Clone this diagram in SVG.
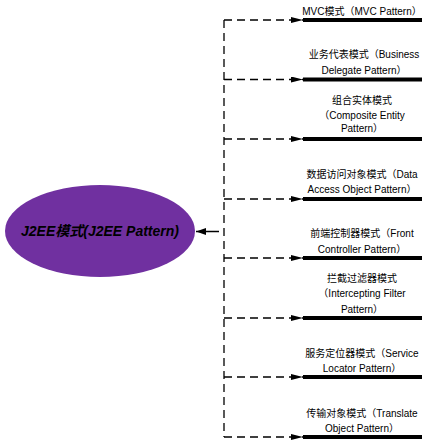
<svg xmlns="http://www.w3.org/2000/svg" width="436" height="446" viewBox="0 0 436 446">
<defs>
<style>
.dash{fill:none;stroke:#000;stroke-width:1.3;stroke-dasharray:8,5}
.bar{stroke:#000;stroke-width:4}
.lbl{font-family:"Liberation Sans","Noto Sans CJK SC",sans-serif;font-size:10px;fill:#000;text-anchor:middle}
.title{font-family:"Liberation Sans","Noto Sans CJK SC",sans-serif;font-size:14px;font-weight:bold;font-style:italic;fill:#000;text-anchor:middle}
</style>
<marker id="ah" viewBox="0 0 12 6" refX="12" refY="3" markerWidth="12" markerHeight="6" markerUnits="userSpaceOnUse" orient="auto">
<path d="M0,0 L12,3 L0,6 Z" fill="#000"/>
</marker>
<marker id="ahs" viewBox="0 0 10 7" refX="10" refY="3.5" markerWidth="10" markerHeight="7" markerUnits="userSpaceOnUse" orient="auto">
<path d="M0,0 L10,3.5 L0,7 Z" fill="#000"/>
</marker>
</defs>
<rect width="436" height="446" fill="#fff"/>
<g id="connectors">
<path class="dash" d="M224,20 V437"/>
<path class="dash" d="M224,20 H303" marker-end="url(#ah)"/>
<path class="dash" d="M224,79.5 H303" marker-end="url(#ah)"/>
<path class="dash" d="M224,139 H303" marker-end="url(#ah)"/>
<path class="dash" d="M224,199 H303" marker-end="url(#ah)"/>
<path class="dash" d="M224,258 H303" marker-end="url(#ah)"/>
<path class="dash" d="M224,318 H303" marker-end="url(#ah)"/>
<path class="dash" d="M224,377 H303" marker-end="url(#ah)"/>
<path class="dash" d="M224,437 H303" marker-end="url(#ah)"/>
<path d="M219,231.5 H196" stroke="#000" stroke-width="1.5" marker-end="url(#ahs)"/>
</g>
<g id="root">
<ellipse cx="100" cy="231" rx="95" ry="46" fill="#7030A0"/>
<text class="title" x="100" y="236">J2EE模式(J2EE Pattern)</text>
</g>
<g id="n1">
<line class="bar" x1="303" y1="20" x2="422" y2="20"/>
<text class="lbl" x="362" y="14.5">MVC模式（MVC Pattern）</text>
</g>
<g id="n2">
<line class="bar" x1="303" y1="79.5" x2="422" y2="79.5"/>
<text class="lbl" x="364" y="57.5">业务代表模式（Business</text>
<text class="lbl" x="364" y="73.5">Delegate Pattern）</text>
</g>
<g id="n3">
<line class="bar" x1="303" y1="139" x2="422" y2="139"/>
<text class="lbl" x="362" y="103.5">组合实体模式</text>
<text class="lbl" x="362" y="118.5">（Composite Entity</text>
<text class="lbl" x="362" y="132">Pattern）</text>
</g>
<g id="n4">
<line class="bar" x1="303" y1="199" x2="422" y2="199"/>
<text class="lbl" x="362" y="177.5">数据访问对象模式（Data</text>
<text class="lbl" x="362" y="192.5">Access Object Pattern）</text>
</g>
<g id="n5">
<line class="bar" x1="303" y1="258" x2="422" y2="258"/>
<text class="lbl" x="362" y="236.5">前端控制器模式（Front</text>
<text class="lbl" x="362" y="252.5">Controller Pattern）</text>
</g>
<g id="n6">
<line class="bar" x1="303" y1="318" x2="422" y2="318"/>
<text class="lbl" x="362" y="281.5">拦截过滤器模式</text>
<text class="lbl" x="362" y="296.5">（Intercepting Filter</text>
<text class="lbl" x="362" y="312.5">Pattern）</text>
</g>
<g id="n7">
<line class="bar" x1="303" y1="377" x2="422" y2="377"/>
<text class="lbl" x="362" y="356.5">服务定位器模式（Service</text>
<text class="lbl" x="362" y="371.5">Locator Pattern）</text>
</g>
<g id="n8">
<line class="bar" x1="303" y1="437" x2="422" y2="437"/>
<text class="lbl" x="362" y="416.5">传输对象模式（Translate</text>
<text class="lbl" x="362" y="431.5">Object Pattern）</text>
</g>
</svg>
